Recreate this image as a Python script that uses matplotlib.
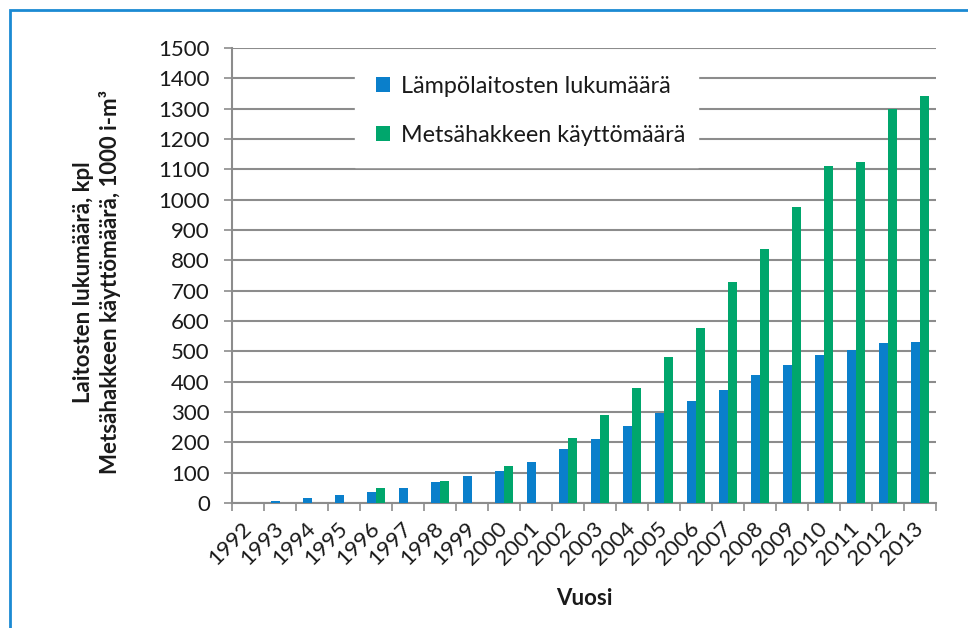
import numpy as np
import matplotlib
matplotlib.use("Agg")
import matplotlib.pyplot as plt
from matplotlib.patches import Rectangle

plt.rcParams["font.family"] = ["Lato", "DejaVu Sans"]

years = [str(y) for y in range(1992, 2014)]
plants = [1, 6, 16, 26, 37, 51, 69, 89, 107, 136, 177, 212, 254, 296, 337,
          373, 422, 454, 489, 504, 526, 532]
chips = [np.nan, np.nan, np.nan, np.nan, 49, np.nan, 72, np.nan, 122, np.nan,
         214, 289, 379, 481, 578, 728, 838, 977, 1110, 1124, 1300, 1341]
series_names = ["Lämpölaitosten lukumäärä", "Metsähakkeen käyttömäärä"]
colors = ["#0A7FCB", "#00A66C"]

fig = plt.figure(figsize=(9.68, 6.28), dpi=100)
ax = fig.add_axes([232 / 968, 1 - 503 / 628, 704 / 968, 455 / 628])

x = np.arange(len(years))
w = 0.27
ax.bar(x - w / 2, plants, w, color=colors[0], label=series_names[0], zorder=3)
ax.bar(x + w / 2, chips, w, color=colors[1], label=series_names[1], zorder=3)

ax.set_xlim(-0.5, len(years) - 0.5)
ax.set_ylim(0, 1500)
ax.set_yticks(range(0, 1501, 100))
ax.yaxis.grid(True, color="#8C8C8C", linewidth=1.5, zorder=0)
ax.set_axisbelow(True)

grey = "#8C8C8C"
for s in ["top", "right"]:
    ax.spines[s].set_visible(False)
for s in ["left", "bottom"]:
    ax.spines[s].set_color(grey)
    ax.spines[s].set_linewidth(1.5)

ax.tick_params(axis="y", direction="out", length=6, width=1.2, color=grey,
               labelsize=16, labelcolor="#1A1A1A", pad=10)
ax.set_xticks(x)
ax.set_xticklabels(years, rotation=45, ha="right", va="center",
                   rotation_mode="anchor", fontsize=16, color="#1A1A1A")
ax.tick_params(axis="x", which="major", length=0, pad=16)
ax.set_xticks(np.arange(-0.5, len(years), 1), minor=True)
ax.tick_params(axis="x", which="minor", direction="out", length=6,
               width=1.2, color=grey)

fig.text(97 / 968, 1 - 282 / 628,
         "Laitosten lukumäärä, kpl\nMetsähakkeen käyttömäärä, 1000 i-m³",
         rotation=90, ha="center", va="center", multialignment="center",
         fontsize=16, fontweight="bold", color="#1A1A1A", linespacing=1.3)
ax.set_xlabel("Vuosi", fontsize=16, fontweight="bold", color="#1A1A1A",
              labelpad=14)

leg = ax.legend(loc="upper left", bbox_to_anchor=(0.175, 0.4, 0.487, 0.585),
                mode="expand", frameon=True,
                fontsize=16.8, handlelength=0.6, handleheight=0.6,
                handletextpad=0.45, labelspacing=1.2, borderpad=0.9,
                borderaxespad=0, fancybox=False, edgecolor="white",
                framealpha=1)
for t in leg.get_texts():
    t.set_color("#1A1A1A")

fig.patches.append(Rectangle((10 / 968, -0.1), 1.2, 1 - 10 / 628 + 0.1,
                             transform=fig.transFigure, fill=False,
                             edgecolor="#1B8AD3", linewidth=2))

fig.savefig("out.png", dpi=100)
